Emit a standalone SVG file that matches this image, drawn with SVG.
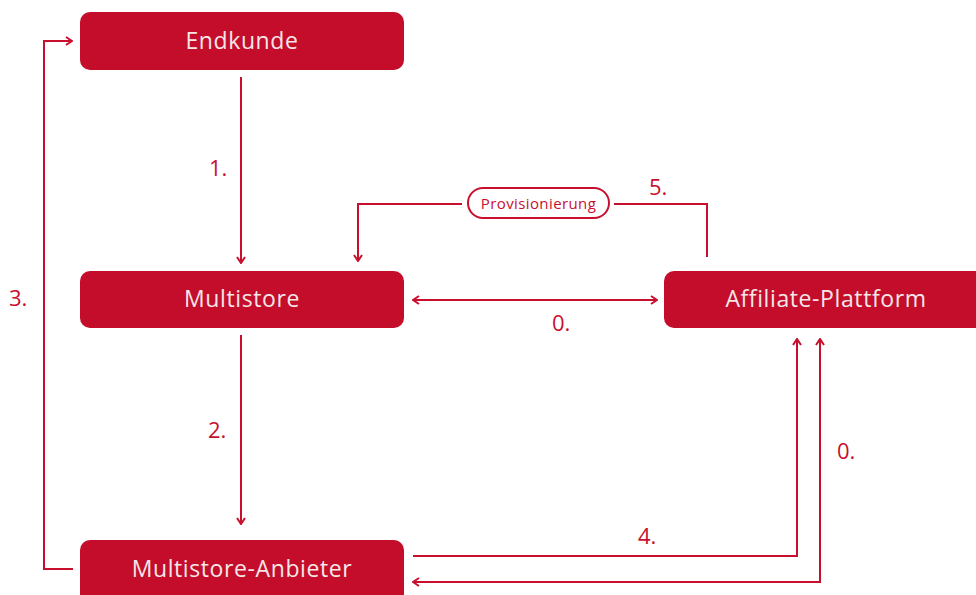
<svg xmlns="http://www.w3.org/2000/svg" width="976" height="595" viewBox="0 0 976 595">
<defs>
<style>
.box{fill:#c30d2b;}
.bt{fill:#f6e6e8;font-family:"Open Sans","Noto Sans",sans-serif;font-size:23px;letter-spacing:0.6px;text-anchor:middle;}
.ln{fill:none;stroke:#c8102e;stroke-width:2;}
.lbl{fill:#c8102e;font-family:"Open Sans","Noto Sans",sans-serif;font-size:22px;}
.pill{fill:#fff;stroke:#c8102e;stroke-width:2;}
.pt{fill:#c8102e;font-family:"Open Sans","Noto Sans",sans-serif;font-size:15px;letter-spacing:0.4px;text-anchor:middle;}
</style>
<marker id="ah" viewBox="0 0 10 10" refX="9" refY="5" markerWidth="10" markerHeight="10" markerUnits="userSpaceOnUse" orient="auto-start-reverse">
<path d="M3,1 L9,5 L3,9" fill="none" stroke="#c8102e" stroke-width="2"/>
</marker>
</defs>
<rect width="976" height="595" fill="#fff"/>
<g id="connectors">
<line class="ln" x1="241" y1="77" x2="241" y2="263" marker-end="url(#ah)"/>
<line class="ln" x1="241" y1="335" x2="241" y2="524" marker-end="url(#ah)"/>
<polyline class="ln" points="73,569 44,569 44,41 72,41" marker-end="url(#ah)"/>
<line class="ln" x1="413" y1="300" x2="657" y2="300" marker-start="url(#ah)" marker-end="url(#ah)"/>
<polyline class="ln" points="707,257 707,204 614,204"/>
<polyline class="ln" points="462,204 358,204 358,261" marker-end="url(#ah)"/>
<polyline class="ln" points="413,556 797,556 797,339" marker-end="url(#ah)"/>
<polyline class="ln" points="820,339 820,582 413,582" marker-start="url(#ah)" marker-end="url(#ah)"/>
<g id="label-provisionierung">
<rect class="pill" x="468" y="188" width="141" height="30" rx="15"/>
<text class="pt" x="538.5" y="208.5">Provisionierung</text>
</g>
<text class="lbl" x="209" y="176">1.</text>
<text class="lbl" x="208" y="438">2.</text>
<text class="lbl" x="9" y="306">3.</text>
<text class="lbl" x="638" y="544">4.</text>
<text class="lbl" x="649" y="195">5.</text>
<text class="lbl" x="552" y="331">0.</text>
<text class="lbl" x="837" y="459">0.</text>
</g>
<g id="endkunde">
<rect class="box" x="80" y="12" width="324" height="58" rx="10"/>
<text class="bt" x="242" y="49">Endkunde</text>
</g>
<g id="multistore">
<rect class="box" x="80" y="271" width="324" height="57" rx="10"/>
<text class="bt" x="242" y="307">Multistore</text>
</g>
<g id="affiliate-plattform">
<rect class="box" x="664" y="271" width="330" height="57" rx="10"/>
<text class="bt" x="826" y="307">Affiliate-Plattform</text>
</g>
<g id="multistore-anbieter">
<rect class="box" x="80" y="540" width="324" height="65" rx="10"/>
<text class="bt" x="242" y="577">Multistore-Anbieter</text>
</g>
</svg>
